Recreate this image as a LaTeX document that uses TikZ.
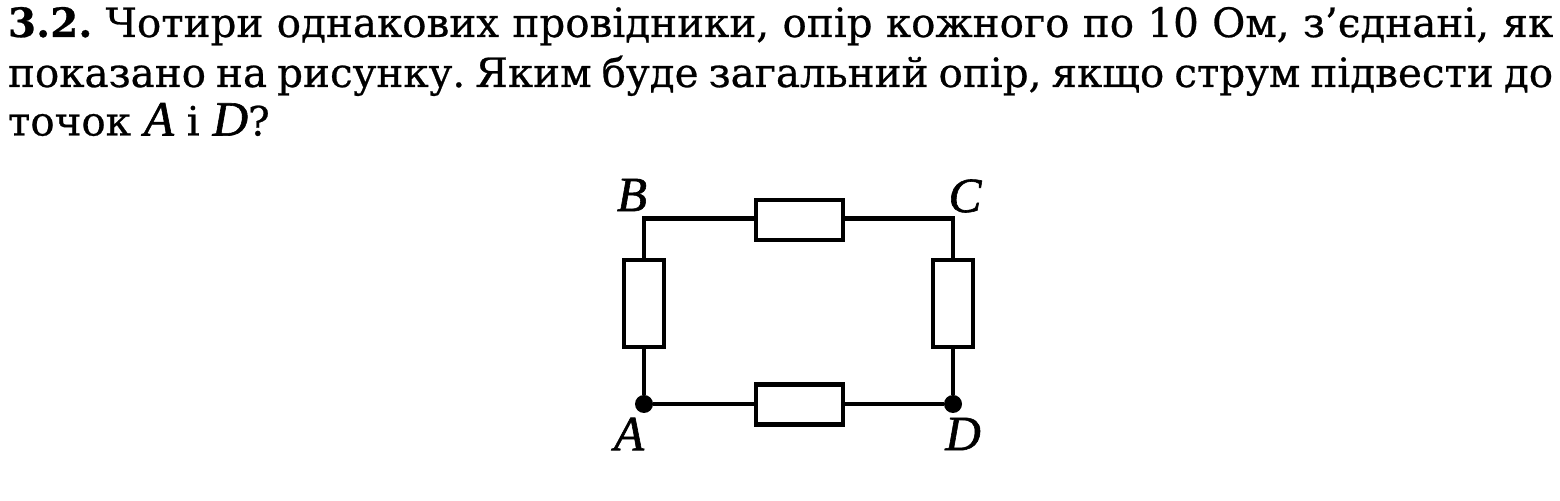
\documentclass[tikz,border=0pt]{standalone}
\usepackage{fontspec}
\setmainfont{DejaVu Serif}[FakeBold=0.6]
\newfontfamily\pointfont{Liberation Serif}[ItalicFeatures={FakeBold=1.2}]
\usetikzlibrary{positioning}
\frenchspacing
\newcommand{\fullline}[1]{\hbox to 30.9cm{#1}}
\newcommand{\pointname}[1]{{\pointfont\fontsize{28}{28}\selectfont\itshape #1}}
\tikzset{
resistor/.style={draw, line width=0.09cm, fill=white, minimum width=1.74cm, minimum height=0.8cm, inner sep=0pt, outer sep=0pt},
resistorv/.style={draw, line width=0.09cm, fill=white, minimum width=0.8cm, minimum height=1.74cm, inner sep=0pt, outer sep=0pt},
junction/.style={circle, fill=black, minimum size=0.36cm, inner sep=0pt, outer sep=0pt},
corner/.style={inner sep=0pt, outer sep=0pt, minimum size=0pt},
pointlabel/.style={inner sep=0pt, outer sep=0pt},
textline/.style={anchor=base west, inner sep=0pt, outer sep=0pt, font=\fontsize{23}{26}\selectfont}
}
\begin{document}
\begin{tikzpicture}[line width=0.085cm]
\useasboundingbox (0,0) rectangle (31.2,10.02);

% problem text
\node[textline] (line1) at (0.16,9.28) {\fullline{\textbf{3.2.} Чотири однакових провідники, опір кожного по 10 Ом, з’єднані, як}};
\node[textline] (line2) at (0.16,8.28) {\fullline{показано на рисунку. Яким буде загальний опір, якщо струм підвести до}};
\node[textline] (line3) at (0.16,7.31) {точок \pointname{A} і \pointname{D}?};

% circuit
\node[corner] (B) at (12.88,5.65) {};
\node[corner] (C) at (19.06,5.65) {};
\node[junction] (A) at (12.88,1.94) {};
\node[junction] (D) at (19.06,1.94) {};

\node[resistor] (RBC) at (15.99,5.62) {};
\node[resistor] (RAD) at (15.99,1.93) {};
\node[resistorv] (RAB) at (12.88,3.95) {};
\node[resistorv] (RCD) at (19.06,3.95) {};

\draw (A) -- (RAB) ;
\draw (RAB) -- (B.center) -- (RBC.west |- B) ;
\draw (RBC.east |- C) -- (C.center) -- (RCD) ;
\draw (RCD) -- (D) ;
\draw (A) -- (RAD.west |- A) ;
\draw (RAD.east |- D) -- (D) ;

\node[pointlabel] (labelB) at (12.64,6.12) {\pointname{B}};
\node[pointlabel] (labelC) at (19.30,6.10) {\pointname{C}};
\node[pointlabel] (labelA) at (12.58,1.34) {\pointname{A}};
\node[pointlabel] (labelD) at (19.26,1.34) {\pointname{D}};

\end{tikzpicture}
\end{document}
